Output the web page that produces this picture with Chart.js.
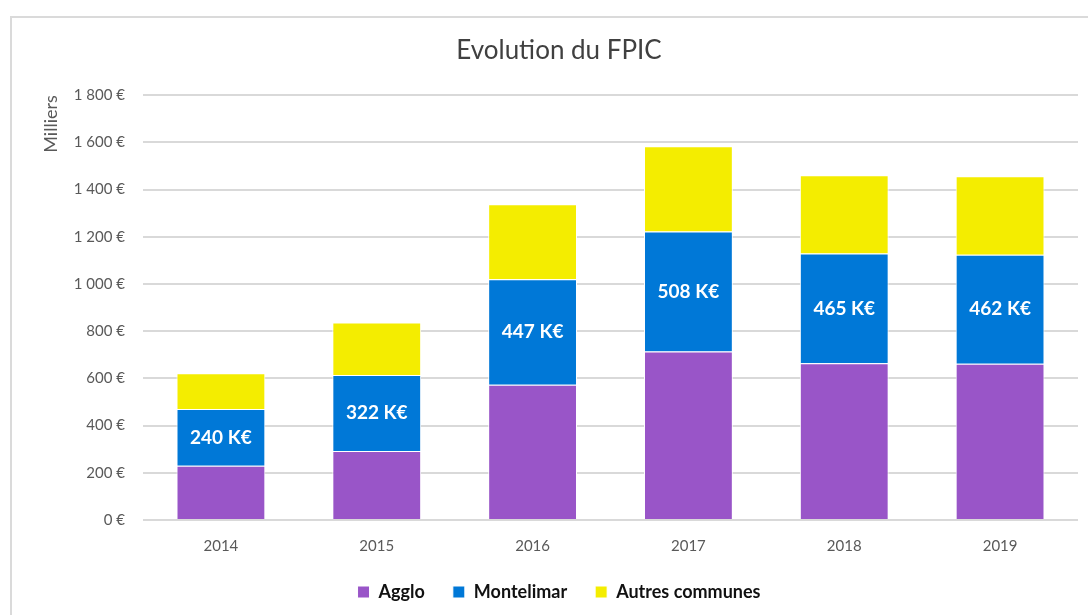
<!DOCTYPE html>
<html>
<head>
<meta charset="utf-8">
<script src="https://cdn.jsdelivr.net/npm/chart.js@4/dist/chart.umd.min.js"></script>
<style>
  html, body { margin:0; padding:0; background:#fff; }
  #frame { position:absolute; left:10px; top:16px; width:1100px; height:620px; border:2px solid #dadada; box-sizing:border-box; }
  #wrap { position:absolute; left:0; top:0; width:1088px; height:615px; }
</style>
</head>
<body>
<div id="frame"></div>
<div id="wrap"><canvas id="c" width="1088" height="615"></canvas></div>
<script>
const categories = ['2014', '2015', '2016', '2017', '2018', '2019'];
const agglo      = [230, 292, 573, 714, 664, 662];
const montelimar = [240, 322, 447, 508, 465, 462];
const autres     = [152, 223, 318, 362, 332, 333];
const montelimarLabels = ['240 K€', '322 K€', '447 K€', '508 K€', '465 K€', '462 K€'];
const yTicks = [0, 200, 400, 600, 800, 1000, 1200, 1400, 1600, 1800];

const fmt = v => (v >= 1000 ? Math.floor(v/1000) + ' ' + String(v % 1000).padStart(3, '0') : String(v)) + ' €';

const labelPlugin = {
  id: 'segLabels',
  afterDatasetsDraw(chart) {
    const meta = chart.getDatasetMeta(1);
    const ctx = chart.ctx;
    ctx.save();
    ctx.fillStyle = '#ffffff';
    ctx.font = 'bold 19px Lato';
    ctx.textAlign = 'center';
    ctx.textBaseline = 'middle';
    meta.data.forEach((el, i) => {
      ctx.fillText(montelimarLabels[i], el.x, (el.y + el.base) / 2);
    });
    ctx.restore();
  }
};

new Chart(document.getElementById('c'), {
  type: 'bar',
  data: {
    labels: categories,
    datasets: [
      { label: 'Agglo', data: agglo, backgroundColor: '#9955c8', borderColor: '#ffffff', borderWidth: 1 },
      { label: 'Montelimar', data: montelimar, backgroundColor: '#0078d7', borderColor: '#ffffff', borderWidth: 1 },
      { label: 'Autres communes', data: autres, backgroundColor: '#f4ed00', borderColor: '#ffffff', borderWidth: 1 }
    ]
  },
  options: {
    responsive: false,
    animation: false,
    layout: { padding: { left: 40, right: 10, top: 0, bottom: 4 } },
    datasets: { bar: { categoryPercentage: 1, barPercentage: 0.57 } },
    plugins: {
      title: {
        display: true, text: 'Evolution du FPIC', color: '#404040',
        font: { family: 'Lato', size: 26, weight: 'normal' },
        padding: { top: 35, bottom: 29 }
      },
      legend: {
        position: 'bottom',
        labels: {
          color: '#111111', font: { family: 'Lato', size: 18, weight: 'bold' },
          boxWidth: 12, boxHeight: 12, padding: 28
        }
      },
      tooltip: { enabled: false }
    },
    scales: {
      x: {
        stacked: true,
        afterFit: s => { s.height = 35; },
        grid: { display: false },
        border: { display: false },
        ticks: { color: '#595959', font: { family: 'Lato', size: 15 }, padding: 9 }
      },
      y: {
        stacked: true, min: 0, max: 1800,
        afterBuildTicks: s => { s.ticks = yTicks.map(v => ({ value: v })); },
        afterFit: s => { s.width = 103; },
        grid: { color: '#d9d9d9', lineWidth: 2, drawTicks: false },
        border: { display: false },
        ticks: { color: '#595959', font: { family: 'Lato', size: 15 }, padding: 18, callback: v => fmt(v) },
        title: { display: true, text: 'Milliers', align: 'end', color: '#595959', font: { family: 'Lato', size: 18 }, padding: 0 }
      }
    }
  },
  plugins: [labelPlugin]
});
</script>
</body>
</html>
